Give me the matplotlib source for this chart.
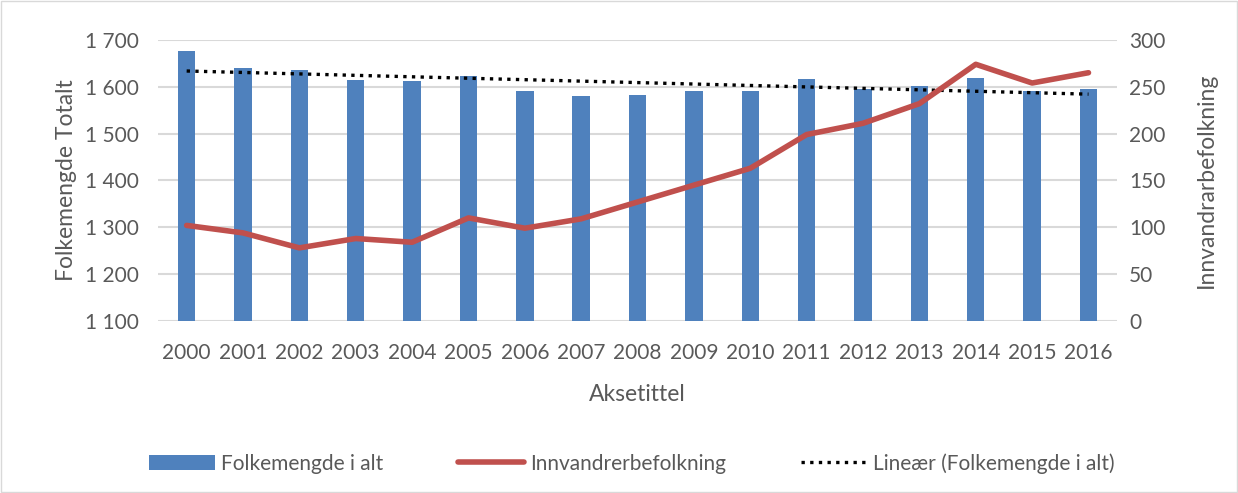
import numpy as np
import matplotlib.pyplot as plt
from matplotlib.ticker import FuncFormatter
from matplotlib.patches import Rectangle

# data
years = ['2000', '2001', '2002', '2003', '2004', '2005', '2006', '2007', '2008',
         '2009', '2010', '2011', '2012', '2013', '2014', '2015', '2016']
folkemengde = [1676, 1641, 1635, 1615, 1612, 1624, 1590, 1581, 1583,
               1590, 1590, 1616, 1595, 1601, 1618, 1590, 1595]
innvandrer = [102, 94, 78, 88, 84, 110, 99, 109, 127,
              145, 163, 199, 211, 232, 274, 254, 265]

left_ticks = [1100, 1200, 1300, 1400, 1500, 1600, 1700]
right_ticks = [0, 50, 100, 150, 200, 250, 300]

plt.rcParams['font.family'] = ['Lato', 'DejaVu Sans']
txt = '#595959'
blue = '#4f81bd'
red = '#c0504d'

fig = plt.figure(figsize=(12.38, 4.93), dpi=100)
ax = fig.add_axes([0.128, 0.349, 0.774, 0.570])
ax2 = ax.twinx()

x = np.arange(len(years))
ax.bar(x, folkemengde, width=0.31, color=blue, zorder=2, label='Folkemengde i alt')

# linear trendline of the bars
k, m = np.polyfit(x, folkemengde, 1)
ax.plot(x, k * x + m, color='black', ls=(0, (1, 1.6)), lw=2.4, zorder=4,
        label='Lineær (Folkemengde i alt)')

ax2.plot(x, innvandrer, color=red, lw=4, solid_capstyle='round', zorder=3,
         label='Innvandrerbefolkning')

ax.set_ylim(1100, 1700)
ax.set_yticks(left_ticks)
ax.yaxis.set_major_formatter(FuncFormatter(lambda v, p: '{:,}'.format(int(v)).replace(',', ' ')))
ax2.set_ylim(0, 300)
ax2.set_yticks(right_ticks)
ax.set_xlim(-0.5, len(years) - 0.5)
ax.set_xticks(x)
ax.set_xticklabels(years)

ax.grid(axis='y', color='#d9d9d9', lw=1.5, zorder=0)
ax.set_axisbelow(True)
for a in (ax, ax2):
    for s in a.spines.values():
        s.set_visible(False)
    a.tick_params(length=0, labelsize=15, colors=txt)
ax.tick_params(axis='x', pad=16)
ax.tick_params(axis='y', pad=14)
ax2.tick_params(axis='y', pad=9)

# ax2 on top of ax, but bars should stay visible
ax.set_zorder(1)
ax.patch.set_visible(False)
ax2.set_zorder(2)
ax2.patch.set_visible(False)

ax.set_xlabel('Aksetittel', fontsize=16.5, color=txt, labelpad=15)
ax.set_ylabel('Folkemengde Totalt', fontsize=16.5, color=txt, labelpad=6)
ax2.set_ylabel('Innvandrarbefolkning', fontsize=16.5, color=txt, labelpad=22)

h1, l1 = ax.get_legend_handles_labels()
h2, l2 = ax2.get_legend_handles_labels()
handles = [h1[1], h2[0], h1[0]]
labels = [l1[1], l2[0], l1[0]]
fig.legend(handles, labels, loc='center', bbox_to_anchor=(0.51, 0.06), ncol=3,
           frameon=False, fontsize=15, labelcolor=txt, handlelength=3.2,
           handletextpad=0.25, columnspacing=3.6)

fig.patches.append(Rectangle((0.001, 0.002), 0.998, 0.996, transform=fig.transFigure,
                             fill=False, edgecolor='#d9d9d9', lw=1))

fig.savefig('out.png', dpi=100)
